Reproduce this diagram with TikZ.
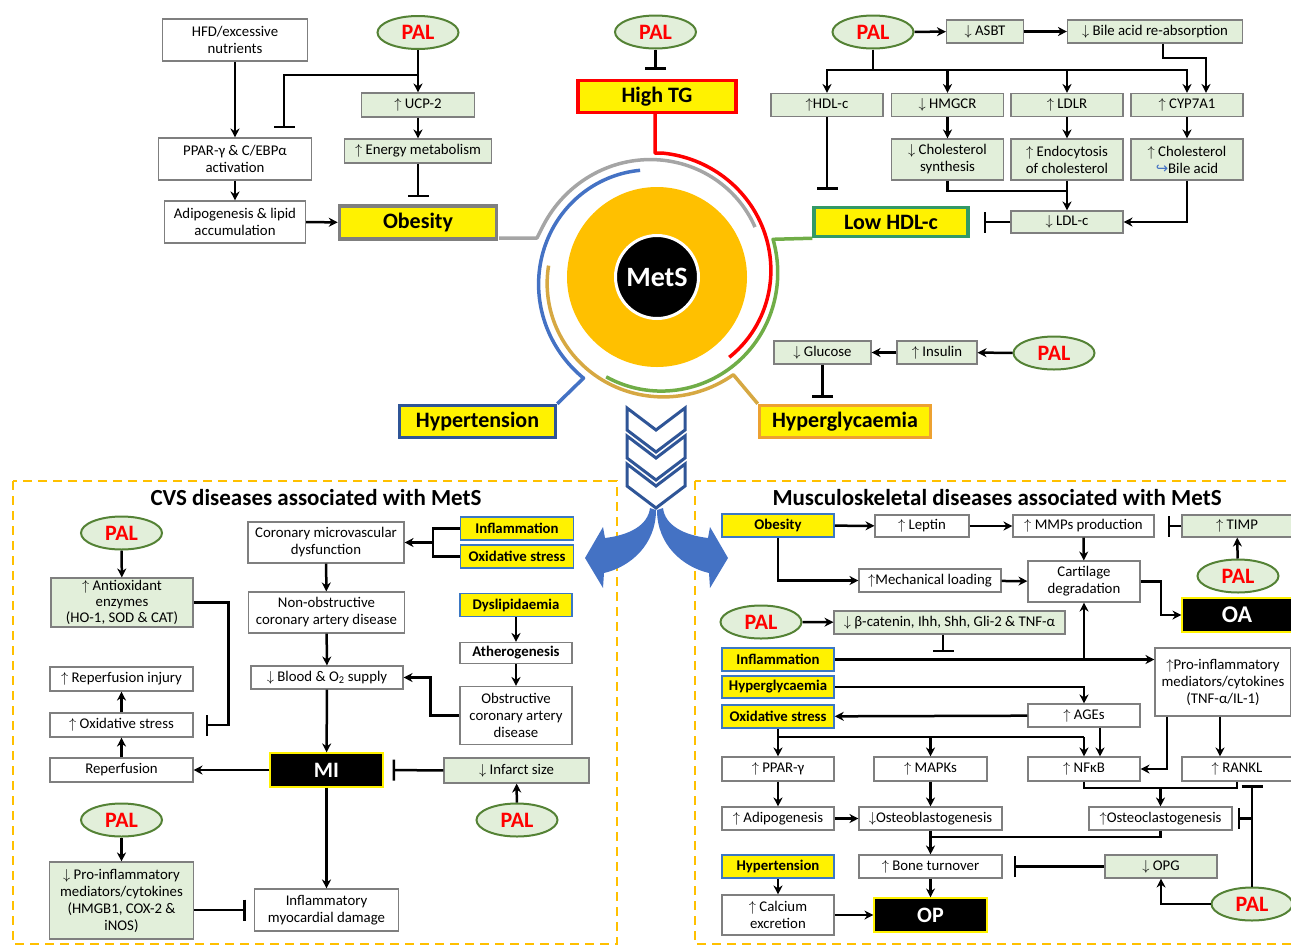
\documentclass[tikz,border=0pt]{standalone}
\usepackage{fontspec}
\setmainfont{Carlito}
\newfontfamily\symf{DejaVu Sans}
\usetikzlibrary{arrows.meta, shapes.geometric, calc}
\definecolor{palfill}{HTML}{E2EFDA}
\definecolor{palline}{HTML}{548235}
\definecolor{boxgray}{HTML}{7F7F7F}
\definecolor{grayline}{HTML}{A5A5A5}
\definecolor{greenline}{HTML}{70AD47}
\definecolor{goldline}{HTML}{D6A842}
\definecolor{blueline}{HTML}{4472C4}
\definecolor{htblue}{HTML}{2F5597}
\definecolor{hgorange}{HTML}{EDA131}
\definecolor{hdlgreen}{HTML}{339966}
\definecolor{ylblue}{HTML}{3B78C4}
\definecolor{metsyellow}{HTML}{FFC000}
\definecolor{dashorange}{HTML}{FFC000}
\newcommand{\fs}{\fontsize{14.8}{17}\selectfont}
\newcommand{\upa}{$\uparrow$}
\newcommand{\dna}{$\downarrow$}
\begin{document}
\begin{tikzpicture}[x=1pt, y=-1pt,
	box/.style={draw=boxgray, line width=1.1pt, fill=white, align=center, inner sep=1pt, font=\fs},
	gbox/.style={box, fill=palfill},
	ybox/.style={draw=ylblue, line width=1.6pt, fill=yellow, inner sep=1pt, minimum width=112pt, minimum height=23pt, font=\bfseries\fs},
	sz/.style 2 args={minimum width=#1pt, minimum height=#2pt},
	pal/.style={ellipse, draw=palline, line width=2pt, fill=palfill, text=red, inner sep=0pt, minimum width=81pt, minimum height=33pt, font=\bfseries\fontsize{22}{24}\selectfont},
	dis/.style={line width=3.5pt, fill=yellow, inner sep=0pt, font=\bfseries\fontsize{22}{24}\selectfont},
	blk/.style={draw=yellow, line width=1.2pt, fill=black, text=white, inner sep=0pt, font=\bfseries\fontsize{22}{24}\selectfont},
	title/.style={font=\bfseries\fontsize{23}{26}\selectfont},
	arr/.style={-{Stealth[length=9pt, width=9pt]}, line width=2.5pt},
	inh/.style={-{Bar[width=21pt]}, line width=2.5pt},
	ring/.style={line width=3.5pt, line join=round},
	chev/.style={draw=htblue, line width=3pt, fill=white, line join=miter},
	dashbox/.style={draw=dashorange, line width=2pt, dash pattern=on 9pt off 6pt}]
	\useasboundingbox (0,0) rectangle (1291,946);
	% obesity
	\node[box, sz={145}{42}] (hfd) at (235,40) {HFD/excessive\\nutrients};
	\node[pal] (pal1) at (418,32.5) {PAL};
	\node[gbox, sz={113}{24}] (ucp) at (418,105) {\upa\ UCP-2};
	\node[gbox, sz={147}{24}] (energy) at (418,151) {\upa\ Energy metabolism};
	\node[box, sz={153}{42}] (ppar) at (235,159) {PPAR-γ \& C/EBPα\\activation};
	\node[box, sz={141}{42}] (adipo) at (235,222) {Adipogenesis \& lipid\\accumulation};
	\node[dis, draw=boxgray, sz={157}{33}] (obesity) at (418,222.5) {Obesity};
	\draw[arr] (hfd) -- (ppar);
	\draw[arr] (ppar) -- (adipo);
	\draw[arr] (adipo) -- (obesity);
	\draw[arr] (pal1) -- (ucp);
	\draw[arr] (ucp) -- (energy);
	\draw[inh, shorten >=7pt] (energy) -- (obesity);
	\coordinate (j1) at (418,75);
	\coordinate (k1) at (284,128);
	\draw[inh] (j1) -| (k1);
	% high TG
	\node[pal] (pal2) at (655.5,32) {PAL};
	\node[dis, draw=red, sz={158}{32}] (hightg) at (657,96.5) {High TG};
	\draw[inh, shorten >=9pt] (pal2) -- (pal2 |- hightg.north);
	% low HDL-c
	\node[pal] (pal3) at (873,32) {PAL};
	\node[gbox, sz={77}{23}] (asbt) at (985,31.5) {\dna\ ASBT};
	\node[gbox, sz={175}{23}] (bile) at (1155,31.5) {\dna\ Bile acid re-absorption};
	\node[gbox, sz={112}{23}] (hdl) at (827,105) {\upa HDL-c};
	\node[gbox, sz={112}{23}] (hmgcr) at (947.5,105) {\dna\ HMGCR};
	\node[gbox, sz={112}{23}] (ldlr) at (1067,105) {\upa\ LDLR};
	\node[gbox, sz={112}{23}] (cyp) at (1187,105) {\upa\ CYP7A1};
	\node[gbox, sz={112}{41}] (cholsyn) at (947.5,159.5) {\dna\ Cholesterol\\synthesis};
	\node[gbox, sz={112}{41}] (endo) at (1067,159.5) {\upa\ Endocytosis\\of cholesterol};
	\node[gbox, sz={112}{41}] (cholbile) at (1187,159.5) {\upa\ Cholesterol\\{\symf\color{blueline}↪}Bile acid};
	\node[gbox, sz={112}{22}] (ldlc) at (1067,222) {\dna\ LDL-c};
	\node[dis, draw=hdlgreen, sz={154}{29}] (lowhdl) at (891,222) {Low HDL-c};
	\draw[arr] (pal3) -- (asbt);
	\draw[arr] (asbt) -- (bile);
	\coordinate (j3) at (873,70);
	\draw[line width=2.5pt] (pal3) -- (j3);
	\draw[arr] (j3) -| (hdl);
	\draw[arr] (j3) -| (hmgcr);
	\draw[arr] (j3) -| (ldlr);
	\draw[arr] (j3) -| (cyp);
	\coordinate (j4) at (1206,58);
	\draw[arr] ([xshift=8pt]bile.south) |- (j4) -- (j4 |- cyp.north);
	\draw[inh, shorten >=16pt] (hdl) -- (hdl |- lowhdl.north);
	\draw[arr] (hmgcr) -- (cholsyn);
	\draw[arr] (ldlr) -- (endo);
	\draw[arr] (cyp) -- (cholbile);
	\coordinate (j5) at (1067,191);
	\draw[line width=2.5pt] (cholsyn) |- (j5);
	\draw[arr] (endo) -- (ldlc);
	\draw[arr] (cholbile) |- (ldlc);
	\draw[inh, shorten >=14pt] (ldlc) -- (lowhdl);
	% hyperglycaemia and hypertension
	\node[gbox, sz={97}{23}] (glucose) at (822.5,352.5) {\dna\ Glucose};
	\node[gbox, sz={80}{23}] (insulin) at (937,352.5) {\upa\ Insulin};
	\node[pal] (pal4) at (1054,353) {PAL};
	\node[dis, draw=hgorange, sz={171}{32}] (hyperg) at (845,421.5) {Hyperglycaemia};
	\node[dis, draw=htblue, sz={156}{32}] (hypert) at (477.5,421.5) {Hypertension};
	\draw[arr] (pal4) -- (insulin);
	\draw[arr] (insulin) -- (glucose);
	\draw[inh, shorten >=6pt] (glucose) -- (glucose |- hyperg.north);
	% MetS ring
	\draw[ring, grayline] (499,238) -- (537,238) -- plot[domain=157:27, samples=70, smooth] ({657+(125-15*(157-(\x))/130)*cos(\x)}, {277-(125-15*(157-(\x))/130)*sin(\x)});
	\draw[ring, red] (655,114) -- (655,153) -- plot[domain=87:-48, samples=70, smooth] ({657+(124-16*(87-(\x))/135)*cos(\x)}, {277-(124-16*(87-(\x))/135)*sin(\x)});
	\draw[ring, greenline] (lowhdl.south west) -- plot[domain=18:-117, samples=70, smooth] ({657+(122-10*(18-(\x))/135)*cos(\x)}, {277-(122-10*(18-(\x))/135)*sin(\x)});
	\draw[ring, goldline] (hyperg.north west) -- plot[domain=-52:-186, samples=70, smooth] ({657+(124-15*(-52-(\x))/134)*cos(\x)}, {277-(124-15*(-52-(\x))/134)*sin(\x)});
	\draw[ring, blueline] (hypert.north east) -- plot[domain=234:99, samples=70, smooth] ({657+(125-17*(234-(\x))/135)*cos(\x)}, {277-(125-17*(234-(\x))/135)*sin(\x)});
	\fill[metsyellow] (657,277) circle[radius=90pt];
	\node[circle, fill=black, draw=white, line width=3pt, minimum size=83pt, inner sep=0pt, text=white, font=\bfseries\fontsize{28}{30}\selectfont] (mets) at (657,277) {MetS};
	% sections
	\draw[dashbox] (13,481) rectangle (617,944);
	\draw[dashbox] (695,481) rectangle (1300,944);
	\foreach \y in {408,436,464}
		\draw[chev] (627,\y) -- (656,\y+22) -- (685,\y) -- (685,\y+22) -- (656,\y+44) -- (627,\y+22) -- cycle;
	\fill[blueline] (650,508) .. controls (648,525) and (630,535) .. (605,538) -- (603,527) -- (585,558) -- (603,588) -- (604,573) .. controls (630,567) and (656,545) .. (656,510) -- cycle;
	\fill[blueline] (663,508) .. controls (665,525) and (683,535) .. (708,538) -- (710,527) -- (728,558) -- (710,588) -- (709,573) .. controls (683,567) and (657,545) .. (657,510) -- cycle;
	\node[title] (cvstitle) at (316,498) {CVS diseases associated with MetS};
	\node[title] (msktitle) at (997,498) {Musculoskeletal diseases associated with MetS};
	% CVS
	\node[pal] (pal5) at (121.5,533) {PAL};
	\node[gbox, sz={142}{49}, font=\fontsize{14.8}{15.8}\selectfont] (antiox) at (122,602.5) {\upa\ Antioxidant\\enzymes\\(HO-1, SOD \& CAT)};
	\node[box, sz={156}{41}] (cmd) at (326,542.5) {Coronary microvascular\\dysfunction};
	\node[box, sz={156}{41}] (nocad) at (326.5,612.5) {Non-obstructive\\coronary artery disease};
	\node[box, sz={152}{23}] (blood) at (327,677.5) {\dna\ Blood \& O\textsubscript{2} supply};
	\node[ybox, sz={113}{23}] (cinfl) at (517,528.5) {Inflammation};
	\node[ybox, sz={113}{23}] (cox) at (517,556.5) {Oxidative stress};
	\node[ybox] (dys) at (516,605) {Dyslipidaemia};
	\node[box, sz={112}{21}, font=\bfseries\fs] (ath) at (516,653) {Atherogenesis};
	\node[box, sz={112}{58}] (ocad) at (516,715.5) {Obstructive\\coronary artery\\disease};
	\node[box, sz={143}{24}] (repinj) at (121.5,679) {\upa\ Reperfusion injury};
	\node[box, sz={143}{24}] (oxs) at (121.5,725) {\upa\ Oxidative stress};
	\node[box, sz={143}{24}] (rep) at (121.5,770) {Reperfusion};
	\node[blk, sz={113}{34}] (mi) at (326.5,770) {MI};
	\node[gbox, sz={145}{25}] (infarct) at (516.5,770.5) {\dna\ Infarct size};
	\node[pal] (pal6) at (517,820) {PAL};
	\node[pal] (pal7) at (121.5,820) {PAL};
	\node[gbox, sz={144}{77}] (proinf) at (121.5,900.5) {\dna\ Pro-inflammatory\\mediators/cytokines\\(HMGB1, COX-2 \&\\iNOS)};
	\node[box, sz={144}{42}] (imd) at (326.5,910) {Inflammatory\\myocardial damage};
	\draw[arr] (pal5) -- (antiox);
	\coordinate (j6) at (433,542.5);
	\draw[line width=2.5pt] (cinfl) -| (j6);
	\draw[line width=2.5pt] (cox) -| (j6);
	\draw[arr] (j6) -- (cmd);
	\draw[arr] (cmd) -- (nocad);
	\draw[arr] (nocad) -- (blood);
	\draw[arr] (dys) -- (ath);
	\draw[arr] (ath) -- (ocad);
	\draw[arr] (ocad.west) -- ++(-29,0) |- (blood);
	\draw[arr] (blood) -- (mi);
	\draw[arr] (mi) -- (rep);
	\draw[arr] (rep) -- (oxs);
	\draw[arr] (oxs) -- (repinj);
	\draw[inh, shorten >=12pt] (antiox.east) -- ++(35,0) |- (oxs);
	\draw[inh, shorten >=9pt] (infarct) -- (mi);
	\draw[arr] (pal6) -- (infarct);
	\draw[arr] (pal7) -- (proinf);
	\draw[arr] (mi) -- (imd);
	\draw[inh, shorten >=8pt] (proinf.east |- imd) -- (imd);
	% musculoskeletal
	\node[ybox] (mobes) at (778,525.5) {Obesity};
	\node[box, sz={94}{22}] (leptin) at (922,526) {\upa\ Leptin};
	\node[box, sz={141}{22}] (mmp) at (1083.5,526) {\upa\ MMPs production};
	\node[gbox, sz={110}{22}] (timp) at (1237,526) {\upa\ TIMP};
	\node[pal] (pal8) at (1238,576) {PAL};
	\node[box, sz={112}{41}] (cart) at (1084,581.5) {Cartilage\\degradation};
	\node[box, sz={142}{23}] (mech) at (930,580.5) {\upa Mechanical loading};
	\node[blk, sz={110}{34}, font=\bfseries\fontsize{24}{26}\selectfont] (oa) at (1237,615) {OA};
	\node[pal] (pal9) at (761,622) {PAL};
	\node[gbox, sz={231}{23}] (bcat) at (949.5,622.5) {\dna\ β-catenin, Ihh, Shh, Gli-2 \& TNF-α};
	\node[ybox] (minfl) at (778,659.5) {Inflammation};
	\node[box, sz={136}{68}] (proinf2) at (1223,682) {\upa Pro-inflammatory\\mediators/cytokines\\(TNF-α/IL-1)};
	\node[ybox, sz={112}{22}] (mhyperg) at (778,687) {Hyperglycaemia};
	\node[box, sz={112}{23}] (ages) at (1084,715.5) {\upa\ AGEs};
	\node[ybox] (mox) at (778,716.5) {Oxidative stress};
	\node[box, sz={112}{24}] (ppg) at (778,769) {\upa\ PPAR-γ};
	\node[box, sz={113}{24}] (mapk) at (930.5,769) {\upa\ MAPKs};
	\node[box, sz={112}{24}] (nfkb) at (1084,769) {\upa\ NFκB};
	\node[box, sz={110}{24}] (rankl) at (1237,769) {\upa\ RANKL};
	\node[box, sz={112}{23}] (madipo) at (778,818.5) {\upa\ Adipogenesis};
	\node[box, sz={143}{23}] (oblast) at (930.5,818.5) {\dna Osteoblastogenesis};
	\node[box, sz={143}{23}] (oclast) at (1160.5,818.5) {\upa Osteoclastogenesis};
	\node[box, sz={143}{23}] (bone) at (930.5,866.5) {\upa\ Bone turnover};
	\node[gbox, sz={112}{23}] (opg) at (1161,866.5) {\dna\ OPG};
	\node[pal] (pal10) at (1252,904) {PAL};
	\node[ybox] (mhypert) at (778,866.5) {Hypertension};
	\node[box, sz={112}{40}] (calc) at (778,915) {\upa\ Calcium\\excretion};
	\node[blk, sz={113}{34}] (op) at (930.5,915) {OP};
	\draw[arr] (mobes) -- (leptin);
	\draw[arr] (leptin) -- (mmp);
	\draw[inh, shorten >=13pt] (timp) -- (mmp);
	\draw[arr] (pal8) -- (timp);
	\draw[arr] (mmp) -- (cart);
	\draw[arr] (mobes) |- (mech);
	\draw[arr] (mech) -- (cart);
	\draw[arr] (cart.east) -- ++(20.5,0) |- (oa);
	\draw[arr] (pal9) -- (bcat);
	\coordinate (k2) at (943,652);
	\draw[inh] (bcat.south -| k2) -- (k2);
	\coordinate (j8) at (1084,659.5);
	\draw[arr] (minfl) -- (proinf2.west |- minfl);
	\draw[arr] (j8) -- (cart);
	\draw[arr] (mhyperg) -| (ages);
	\draw[arr] (ages) -- (mox);
	\coordinate (j9) at (1084,737);
	\draw[line width=2.5pt] (mox |- j9) -- (j9);
	\draw[arr] (mox) -- (ppg);
	\draw[arr] (mapk |- j9) -- (mapk);
	\draw[arr] (j9) -- (j9 |- nfkb.north);
	\draw[arr] ([xshift=16pt]ages.south) -- ([xshift=16pt]nfkb.north);
	\draw[arr] ([xshift=-56pt]proinf2.south) |- (nfkb);
	\draw[arr] ([xshift=-3pt]proinf2.south) -- ([xshift=-3pt]proinf2.south |- rankl.north);
	\draw[arr] (ppg) -- (madipo);
	\draw[arr] (mapk) -- (oblast);
	\draw[arr] (madipo) -- (oblast);
	\coordinate (j10) at (1160.5,788);
	\draw[line width=2.5pt] (nfkb) |- (j10) -| (rankl);
	\draw[arr] (j10) -- (oclast);
	\coordinate (j11) at (930.5,837);
	\draw[line width=2.5pt] (oclast) |- (j11);
	\draw[arr] (oblast) -- (bone);
	\draw[inh, shorten >=11pt] (opg) -- (bone);
	\draw[arr] (pal10) -| (opg);
	\coordinate (k3) at (1252,785);
	\draw[inh] (pal10) -- (k3);
	\draw[inh, shorten >=5pt] (pal10 |- oclast) -- (oclast);
	\draw[arr] (mhypert) -- (calc);
	\draw[arr] (calc) -- (op);
	\draw[arr] (bone) -- (op);
\end{tikzpicture}
\end{document}
